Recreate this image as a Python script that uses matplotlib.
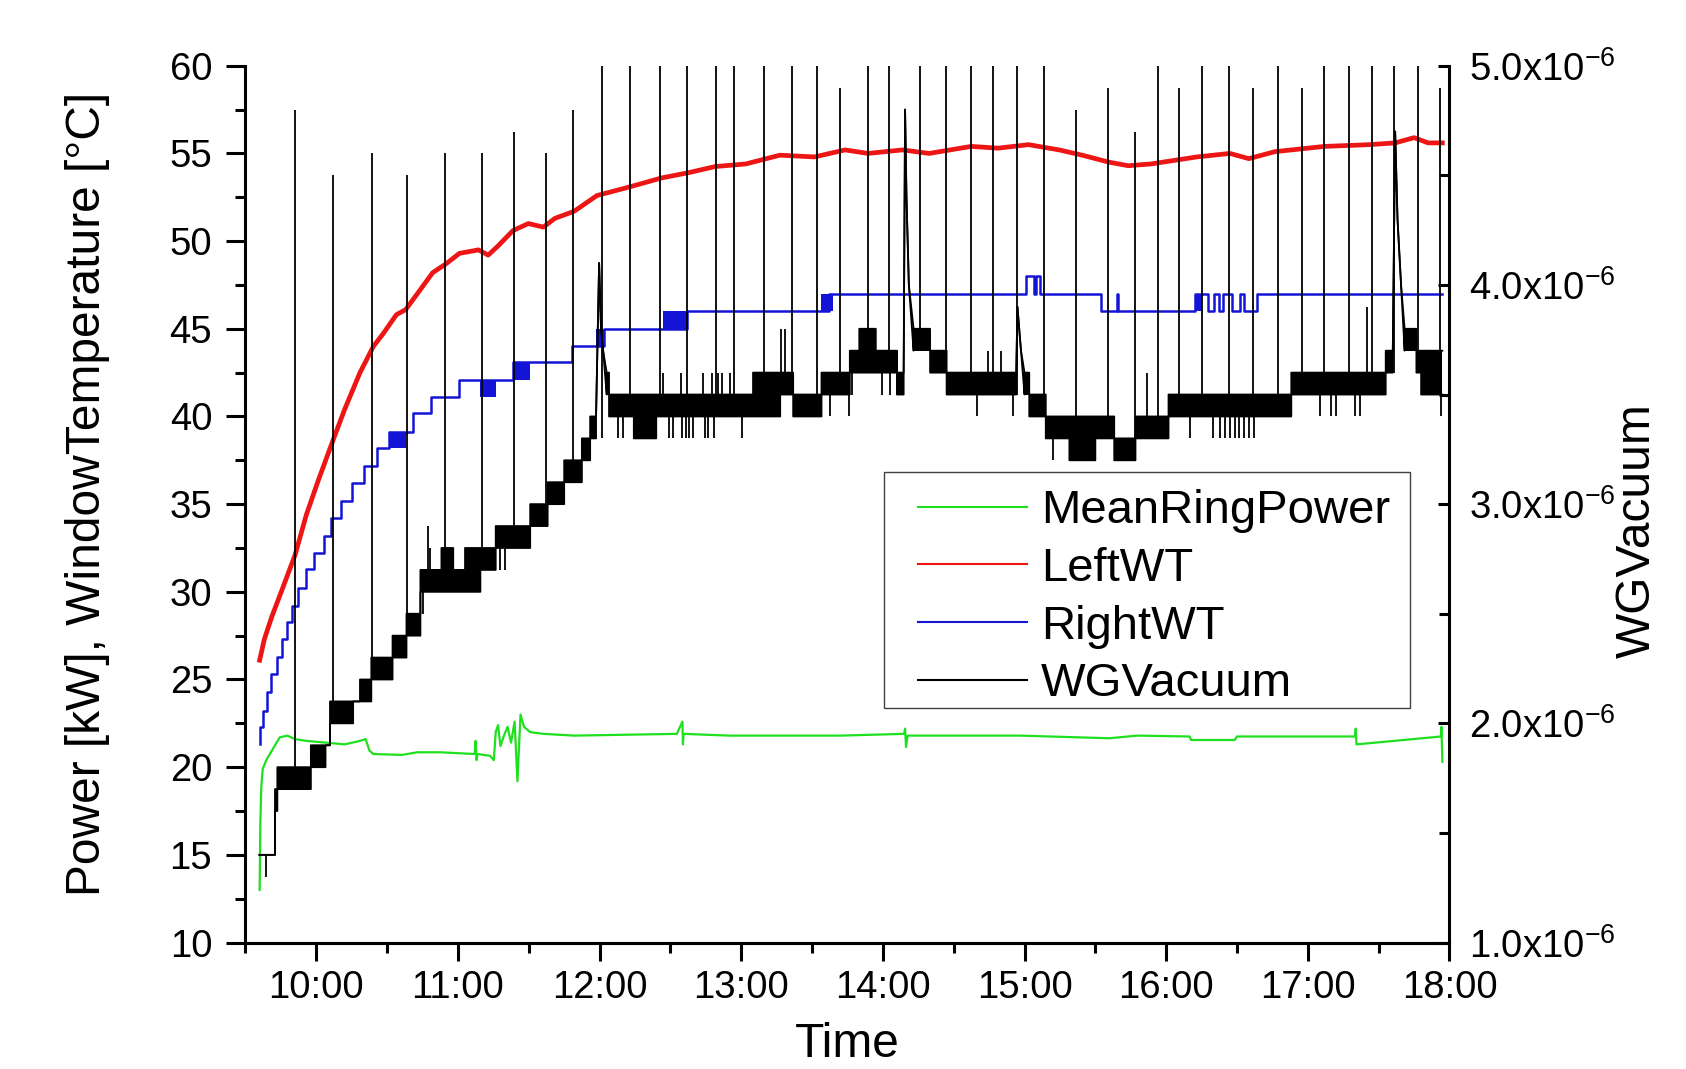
import numpy as np
import matplotlib
matplotlib.use("Agg")
import matplotlib.pyplot as plt
from matplotlib.ticker import FixedLocator
from matplotlib.patches import Rectangle

plt.rcParams['font.family'] = ['Liberation Sans', 'DejaVu Sans']
plt.rcParams['mathtext.fontset'] = 'custom'
plt.rcParams['mathtext.rm'] = 'Liberation Sans'
plt.rcParams['axes.unicode_minus'] = False


def hrs(s):
    h, m = s.split(":")
    return int(h) + float(m) / 60


# ---- LeftWT (red), deg C
RED_T = ["9:36", "9:38", "9:41.2", "9:46", "9:51", "9:55.8", "10:00.7", "10:07.1",
         "10:12", "10:18.5", "10:24.2", "10:28.2", "10:33.9", "10:37.9", "10:42.8", "10:49.3",
         "10:54.9", "11:00.6", "11:08.7", "11:12.8", "11:16.8", "11:23.3", "11:29.8", "11:36.2",
         "11:41.1", "11:49.2", "11:58.9", "12:13", "12:26.2", "12:37.6", "12:48.9", "13:01.9",
         "13:16.4", "13:31", "13:44", "13:53.7", "14:08.3", "14:19.6", "14:37.4", "14:48.8",
         "15:01.7", "15:14.7", "15:24.4", "15:35.8", "15:43.9", "15:53.6", "16:03.3", "16:13",
         "16:27", "16:35", "16:46", "17:07", "17:26", "17:37", "17:45", "17:51",
         "17:57"]
RED_V = [26.1, 27.3, 28.6, 30.3, 32.1, 34.4, 36.3, 38.65,
         40.4, 42.5, 44.0, 44.7, 45.8, 46.1, 47.0, 48.2,
         48.7, 49.3, 49.5, 49.2, 49.7, 50.6, 51.0, 50.8,
         51.3, 51.7, 52.6, 53.1, 53.6, 53.9, 54.25, 54.4,
         54.9, 54.8, 55.2, 55.0, 55.2, 55.0, 55.4, 55.3,
         55.5, 55.2, 54.9, 54.5, 54.3, 54.4, 54.6, 54.8,
         55.0, 54.7, 55.1, 55.4, 55.5, 55.6, 55.9, 55.6,
         55.6]

# ---- MeanRingPower (green), kW
GRN_T = ["9:36", "9:36.3", "9:36.7", "9:37.3", "9:38.8", "9:41.2", "9:44.5", "9:47.7",
         "9:51", "9:55.8", "10:03.9", "10:12", "10:18.5", "10:20.9", "10:22.5", "10:24.2",
         "10:36.3", "10:42.8", "10:52.5", "11:07.1", "11:07.5", "11:07.9", "11:08.3", "11:13.6",
         "11:15.2", "11:16", "11:17", "11:18", "11:19.5", "11:21", "11:22.5", "11:24",
         "11:25.2", "11:26.5", "11:28", "11:30.6", "11:36.2", "11:49.2", "12:32.7", "12:35.1",
         "12:35.3", "12:35.6", "12:55", "13:42", "14:09", "14:09.4", "14:09.8", "14:10.5",
         "14:58", "15:36", "15:47.7", "16:09.9", "16:10.6", "16:21", "16:29", "16:30",
         "17:20", "17:20.3", "17:20.6", "17:56.4", "17:56.6", "17:57"]
GRN_V = [13.0, 16.8, 18.9, 19.9, 20.4, 20.95, 21.7, 21.8,
         21.6, 21.5, 21.4, 21.3, 21.5, 21.6, 20.95, 20.75,
         20.7, 20.85, 20.85, 20.75, 21.5, 20.4, 20.75, 20.65,
         20.4, 22.0, 22.4, 21.2, 21.8, 22.3, 21.4, 22.6,
         19.2, 23.0, 22.3, 22.0, 21.9, 21.8, 21.9, 22.6,
         21.3, 21.9, 21.8, 21.8, 21.9, 22.2, 21.15, 21.8,
         21.8, 21.65, 21.8, 21.75, 21.55, 21.55, 21.55, 21.75,
         21.75, 22.2, 21.3, 21.75, 22.3, 20.3]

# ---- RightWT (blue), step changes, deg C
BLUE_T = ["9:36", "9:36.3", "9:37.6", "9:39.3", "9:40.9", "9:43.2", "9:45.3", "9:47.7",
          "9:49.6", "9:52.2", "9:55.8", "9:59", "10:03.1", "10:06.3", "10:10.4", "10:15.2",
          "10:20.1", "10:25.8", "10:30.6", "10:41", "10:48.5", "11:00.6", "11:23.3", "11:48.4",
          "12:02", "12:37", "13:37", "15:00.5", "15:04", "15:05", "15:06.5", "15:32.6",
          "15:39", "15:39.5", "16:12.2", "16:17.8", "16:20.2", "16:22.5", "16:24.1", "16:28",
          "16:31.2", "16:32.8", "16:38.3", "17:57"]
BLUE_V = [21.3, 22.3, 23.2, 24.3, 25.3, 26.3, 27.3, 28.3,
          29.2, 30.2, 31.3, 32.2, 33.2, 34.2, 35.2, 36.2,
          37.2, 38.2, 39.1, 40.2, 41.1, 42.1, 43.1, 44.0,
          45.0, 46.0, 47.0, 48.0, 47.0, 48.0, 47.0, 46.0,
          47.0, 46.0, 47.0, 46.0, 47.0, 46.0, 47.0, 46.0,
          47.0, 46.0, 47.0, 47.0]
# flicker blocks of RightWT
BLUE_B0 = ["10:30.6", "11:09.5", "11:23.3", "11:58.5", "12:27", "13:34", "16:12.2"]
BLUE_B1 = ["10:37.9", "11:16", "11:30.6", "12:02", "12:37", "13:39", "16:15"]
BLUE_BLO = [38.2, 41.1, 42.1, 44.0, 45.0, 46.0, 46.0]
BLUE_BHI = [39.1, 42.1, 43.1, 45.0, 46.0, 47.0, 47.0]

# ---- WGVacuum (black), units of 1e-6, flicker bands between two levels
VAC_T0 = ["9:35.9", "9:42.5", "9:43.5", "9:57.7", "10:03.9", "10:05.8", "10:15.6", "10:18.5",
          "10:23.3", "10:32.3", "10:38.2", "10:44.1", "10:53", "10:58", "11:03", "11:09.5",
          "11:16", "11:30.6", "11:38", "11:45", "11:52.5", "11:56",
          "12:03", "12:04", "12:14.5", "12:24", "13:05", "13:16.5", "13:22", "13:34",
          "13:46", "13:50", "13:57", "14:06",
          "14:13", "14:20", "14:27",
          "15:00", "15:02", "15:09", "15:19", "15:30", "15:38", "15:47", "16:01",
          "16:53", "17:25", "17:33",
          "17:41", "17:46", "17:48"]
VAC_T1 = ["9:42.5", "9:43.5", "9:57.7", "10:03.9", "10:05.8", "10:15.6", "10:18.5", "10:23.3",
          "10:32.3", "10:38.2", "10:44.1", "10:53", "10:58", "11:03", "11:09.5", "11:16",
          "11:30.6", "11:38", "11:45", "11:52.5", "11:56", "11:58.5",
          "12:04", "12:14.5", "12:24", "13:05", "13:16.5", "13:22", "13:34", "13:46",
          "13:50", "13:57", "14:06", "14:08.8",
          "14:20", "14:27", "14:56.5",
          "15:02", "15:09", "15:19", "15:30", "15:38", "15:47", "16:01", "16:53",
          "17:25", "17:33", "17:36",
          "17:46", "17:48", "17:57"]
VAC_LO = [1.4, 1.6, 1.7, 1.8, 1.9, 2.0, 2.1, 2.1,
          2.2, 2.3, 2.4, 2.6, 2.6, 2.6, 2.6, 2.7,
          2.8, 2.9, 3.0, 3.1, 3.2, 3.3,
          3.5, 3.4, 3.3, 3.4, 3.4, 3.5, 3.4, 3.5,
          3.6, 3.6, 3.6, 3.5,
          3.7, 3.6, 3.5,
          3.5, 3.4, 3.3, 3.2, 3.3, 3.2, 3.3, 3.4,
          3.5, 3.5, 3.6,
          3.7, 3.6, 3.5]
VAC_HI = [1.4, 1.7, 1.8, 1.9, 1.9, 2.1, 2.1, 2.2,
          2.3, 2.4, 2.5, 2.7, 2.8, 2.7, 2.8, 2.8,
          2.9, 3.0, 3.1, 3.2, 3.3, 3.4,
          3.6, 3.5, 3.5, 3.5, 3.6, 3.6, 3.5, 3.6,
          3.7, 3.8, 3.7, 3.6,
          3.8, 3.7, 3.6,
          3.6, 3.5, 3.4, 3.4, 3.4, 3.3, 3.4, 3.5,
          3.6, 3.6, 3.7,
          3.8, 3.7, 3.7]
# pressure bursts between the bands
PEAK_T = ["11:58.5", "11:59.8", "12:00.6", "12:01.5", "12:03",
          "14:08.8", "14:09.4", "14:10", "14:11", "14:13",
          "14:56.5", "14:57", "14:58.5", "15:00",
          "17:36", "17:37", "17:38", "17:39.5", "17:41"]
PEAK_V = [3.4, 4.1, 3.8, 3.7, 3.6,
          3.6, 4.8, 4.4, 4.0, 3.8,
          3.6, 3.9, 3.7, 3.6,
          3.7, 4.7, 4.3, 4.0, 3.8]
# single flicker excursions outside the band
FLK_T = ["9:38.6", "10:45", "10:47.3", "10:48", "11:18", "11:20", "12:07.6", "12:10",
         "12:27", "12:29.5", "12:31", "12:34.3", "12:35", "12:36.5", "12:38", "12:39.5",
         "12:44", "12:44.5", "12:46", "12:47.5", "12:48.5", "12:50", "12:52", "12:55.4",
         "13:00.2", "13:17", "13:18.5", "13:37.5", "13:45.6", "13:47", "13:59.8", "14:03",
         "14:05.8", "14:40", "14:44.6", "14:50", "14:55", "15:12", "15:51.7", "16:09.9",
         "16:20", "16:23", "16:25", "16:27", "16:29", "16:31", "16:33", "16:35",
         "16:37", "17:05", "17:10", "17:12", "17:20", "17:22", "17:25", "17:56.5"]
FLK_V = [1.3, 2.5, 2.9, 2.8, 2.7, 2.7, 3.3, 3.3,
         3.6, 3.3, 3.3, 3.6, 3.3, 3.3, 3.3, 3.3,
         3.6, 3.3, 3.3, 3.6, 3.3, 3.6, 3.6, 3.6,
         3.3, 3.8, 3.8, 3.4, 3.4, 3.5, 3.5, 3.5,
         3.5, 3.4, 3.7, 3.7, 3.4, 3.2, 3.6, 3.3,
         3.3, 3.3, 3.3, 3.3, 3.3, 3.3, 3.3, 3.3,
         3.3, 3.4, 3.4, 3.4, 3.4, 3.4, 3.9, 3.4]
# gauge spikes
SPK_T = ["9:51", "10:06.9", "10:23.4", "10:38.4", "10:54.5", "11:10", "11:23.8", "11:37.1",
         "11:48.9", "12:01.1", "12:12.9", "12:25.7", "12:37.2", "12:49.2", "12:57", "13:09.5",
         "13:21.6", "13:32.2", "13:42", "13:53.7", "14:02.8", "14:15.7", "14:26.6", "14:37.4",
         "14:46.8", "14:56.9", "15:08.2", "15:22", "15:35.3", "15:46.7", "15:56.7", "16:05.5",
         "16:15.1", "16:26.5", "16:36.8", "16:47.2", "16:57.6", "17:06.8", "17:17.3", "17:27.4",
         "17:36.4", "17:46.8", "17:56.2"]
SPK_TOP = [4.8, 4.5, 4.6, 4.5, 4.6, 4.6, 4.7, 4.6,
           4.8, 5.05, 5.05, 5.05, 5.05, 5.05, 5.05, 5.05,
           5.05, 5.05, 4.9, 5.05, 5.05, 5.05, 5.05, 5.05,
           5.05, 5.05, 5.05, 4.8, 4.9, 4.7, 5.05, 4.9,
           5.05, 5.05, 4.9, 5.05, 4.9, 5.05, 5.05, 5.05,
           5.05, 5.05, 4.9]

X_TICKS = [10, 11, 12, 13, 14, 15, 16, 17, 18]
X_LABELS = ["10:00", "11:00", "12:00", "13:00", "14:00", "15:00", "16:00", "17:00", "18:00"]
VAC_TICKS = [1, 2, 3, 4, 5]

GREEN = "#1fe01f"
RED = "#ee1515"
BLUE = "#1414d6"

fig = plt.figure(figsize=(16.86, 10.69), dpi=100)
ax = fig.add_axes([0.1456, 0.1183, 0.7141, 0.8202])
ax2 = ax.twinx()

tr = lambda a: np.array([hrs(s) for s in a])

ax.plot(tr(GRN_T), GRN_V, color=GREEN, lw=1.6, label="MeanRingPower")
ax.plot(tr(RED_T), RED_V, color=RED, lw=3.4, label="LeftWT")
ax.plot(tr(BLUE_T), BLUE_V, color=BLUE, lw=1.8, drawstyle="steps-post", label="RightWT")
for a, b, lo, hi in zip(tr(BLUE_B0), tr(BLUE_B1), BLUE_BLO, BLUE_BHI):
    ax.fill_between([a, b], lo, hi, color=BLUE, lw=0)

# vacuum trace
t0, t1 = tr(VAC_T0), tr(VAC_T1)
pt = tr(PEAK_T)
xs = np.concatenate([np.ravel(np.column_stack([t0, t1])), pt])
lo_y = np.concatenate([np.repeat(VAC_LO, 2), PEAK_V])
hi_y = np.concatenate([np.repeat(VAC_HI, 2), PEAK_V])
order = np.argsort(xs, kind="stable")
ax2.plot(xs[order], lo_y[order], color="black", lw=1.3)
ax2.plot(xs[order], hi_y[order], color="black", lw=1.3, label="WGVacuum")
for a, b, lo, hi in zip(t0, t1, VAC_LO, VAC_HI):
    if hi > lo:
        ax2.fill_between([a, b], lo, hi, color="black", lw=0)


def band_at(t):
    i = np.searchsorted(t0, t, side="right") - 1
    i = min(max(i, 0), len(t0) - 1)
    return VAC_LO[i], VAC_HI[i]


for t, v in zip(tr(FLK_T), FLK_V):
    lo, hi = band_at(t)
    ax2.vlines(t, min(v, lo), max(v, hi), color="black", lw=1.3)
for t, v in zip(tr(SPK_T), SPK_TOP):
    lo, hi = band_at(t)
    ax2.vlines(t, lo, v, color="black", lw=1.3)

# axes
ax.set_xlim(9.5, 18.0)
ax.set_ylim(10, 60)
ax2.set_ylim(1.0, 5.0)
ax.set_xticks(X_TICKS)
ax.set_xticklabels(X_LABELS)
ax.xaxis.set_minor_locator(FixedLocator(np.arange(9.5, 18.0, 1.0)))
ax.set_yticks(np.arange(10, 61, 5))
ax.yaxis.set_minor_locator(FixedLocator(np.arange(12.5, 60, 5)))
ax2.set_yticks(VAC_TICKS)
ax2.set_yticklabels([f"{v:.1f}x10$^{{\\mathregular{{-6}}}}$" for v in VAC_TICKS])
ax2.yaxis.set_minor_locator(FixedLocator(np.arange(1.5, 5.0, 1.0)))

for a in (ax, ax2):
    a.spines["top"].set_visible(False)
    for sp in a.spines.values():
        sp.set_linewidth(2.2)
ax.spines["right"].set_visible(False)
ax2.spines["left"].set_visible(False)

ax.tick_params(axis="y", which="major", direction="out", length=14, width=2.2, labelsize=27.5, pad=10)
ax.tick_params(axis="y", which="minor", direction="out", length=7, width=2.2)
ax.tick_params(axis="x", which="major", direction="out", length=13, width=2.2, labelsize=27.5, pad=7)
ax.tick_params(axis="x", which="minor", direction="out", length=7, width=2.2)
ax2.tick_params(axis="y", which="major", direction="in", length=8, width=2.2, labelsize=27.5, pad=14)
ax2.tick_params(axis="y", which="minor", direction="in", length=7, width=2.2)

ax.set_ylabel("Power [kW], WindowTemperature [°C]", fontsize=34.5)
ax.yaxis.set_label_coords(-0.1125, 0.512)
ax2.set_ylabel("WGVacuum", fontsize=34.5)
ax2.yaxis.set_label_coords(1.137, 0.47)
ax.set_xlabel("Time", fontsize=34.5)
ax.xaxis.set_label_coords(0.5, -0.0904)

# legend: frame drawn as a box, entries placed inside it
ax2.add_patch(Rectangle((0.5303, 0.2675), 0.4369, 0.2695, transform=ax2.transAxes,
                        facecolor="white", edgecolor="#404040", lw=1.0, zorder=4.5))
h1, l1 = ax.get_legend_handles_labels()
h2, l2 = ax2.get_legend_handles_labels()
leg = ax2.legend(h1 + h2, l1 + l2, loc="upper left", bbox_to_anchor=(0.5586, 0.5169),
                 borderaxespad=0, frameon=False, fontsize=34, handlelength=2.31,
                 handletextpad=0.30, labelspacing=0.29, borderpad=0)
leg.set_zorder(5)
for ln in leg.get_lines():
    ln.set_linewidth(1.5)

fig.savefig("out.png", dpi=100)
